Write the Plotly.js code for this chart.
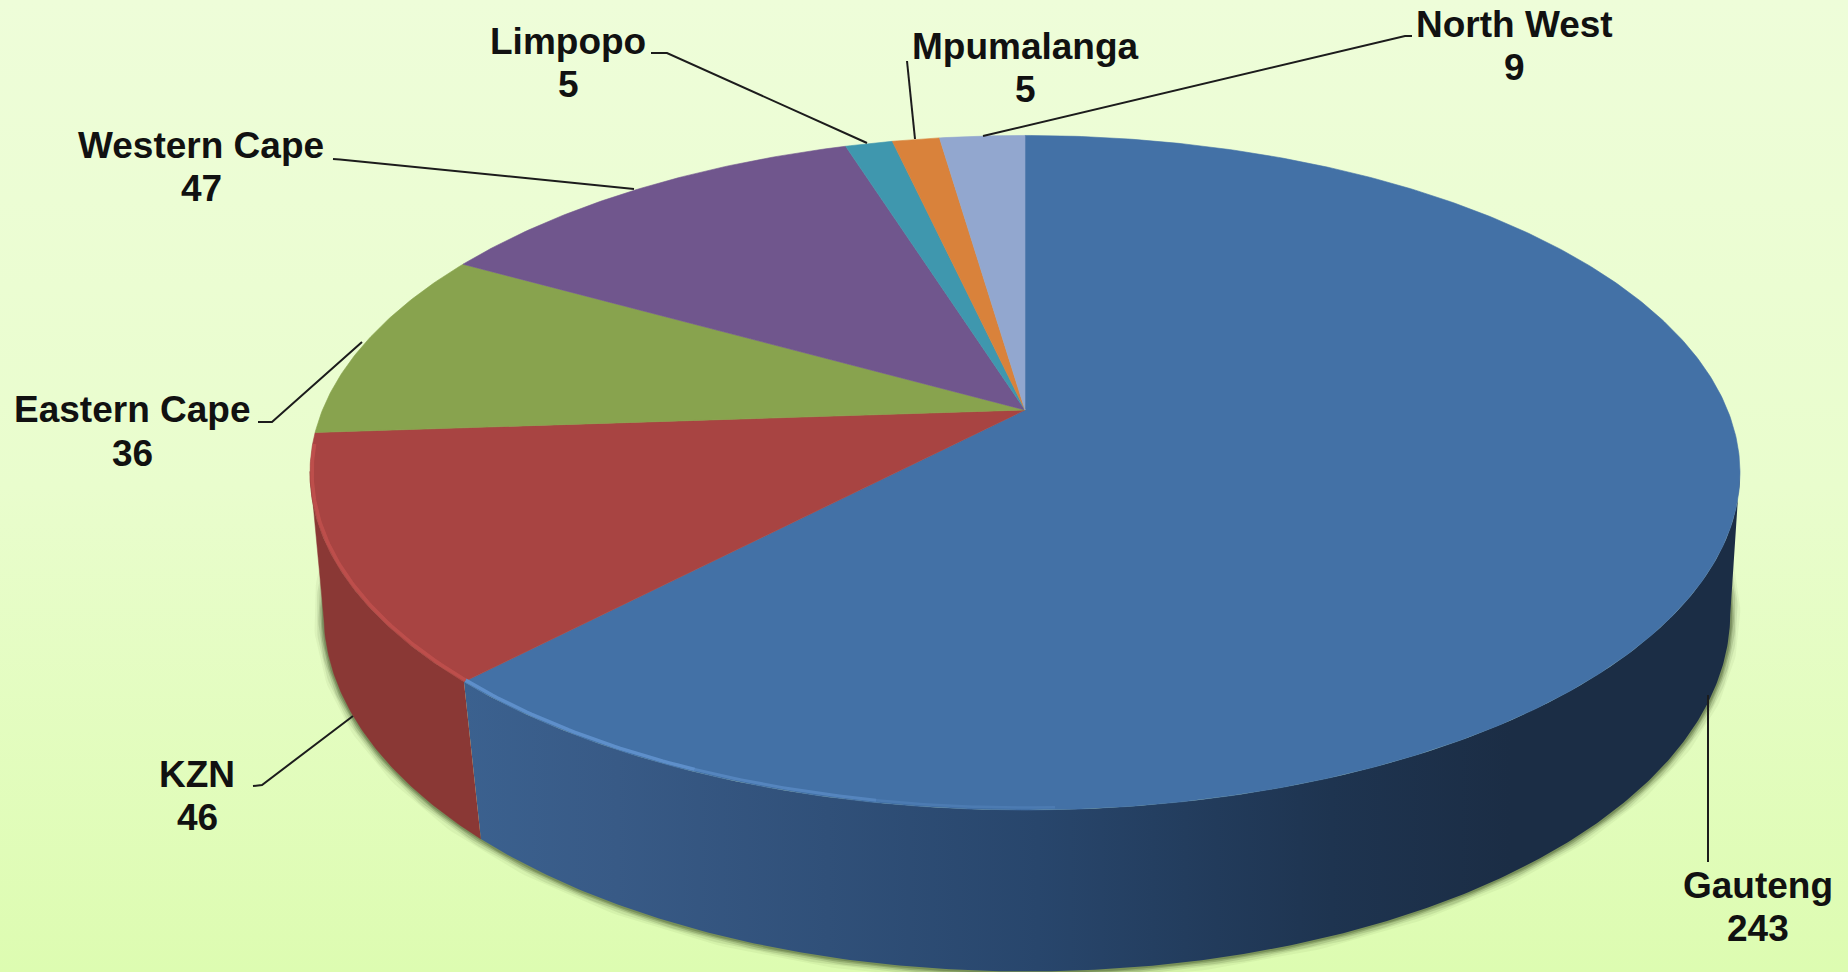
<!DOCTYPE html>
<html>
<head>
<meta charset="utf-8">
<script src="https://cdn.plot.ly/plotly-3.0.1.min.js"></script>
<style>
html,body{margin:0;padding:0;width:1848px;height:972px;overflow:hidden;
background:linear-gradient(to bottom,#eefdd9 0%,#e9fdcd 50%,#ddfcb1 100%);}
#chart{width:1848px;height:972px;}
</style>
</head>
<body>
<div id="chart"></div>
<script>
// Data
const provinces = ["Gauteng","KZN","Eastern Cape","Western Cape","Limpopo","Mpumalanga","North West"];
const counts = [243,46,36,47,5,5,9];

// Styles
const topColors = ["#4371a6","#a84442","#88a34e","#70568d","#3f97ae","#d9823b","#92a7cf"];
const fontFamily = '"Liberation Sans", Arial, sans-serif';

// Label layout: [centre x, first line y, second line y]
const labelPlaces = [[1758,885,928],[197,774,817],[132,409,453],[201,145,188],[568,41,84],[1025,46,89],[1514,24,67]];
// Leader lines, one polyline per label
const leaders = [
  [[1708,695],[1708,862]],
  [[253,786],[262,785],[353,716]],
  [[258,422],[272,422],[362,342]],
  [[333,159],[340,159.5],[634,189]],
  [[651,53],[667,53],[867,143]],
  [[907,61],[915,139]],
  [[983,136],[1405,36],[1412,36]]
];

// Perspective projection of the top and bottom discs of the 3D pie
const topDisc = {cx:1025, cy:410, a:702.5, b:325.6, k:0.186};
const botDisc = {cx:1027, cy:552.5, a:693, b:347.7, k:0.17};
function project(d, deg){
  const t = deg*Math.PI/180, u = Math.sin(t), v = Math.cos(t), w = 1 + d.k*v;
  return [d.cx + d.a*u/w, d.cy - d.b*v/w];
}
function arc(d, from, to){
  const n = Math.max(2, Math.ceil(Math.abs(to-from))*2), pts = [];
  for(let i=0;i<=n;i++) pts.push(project(d, from+(to-from)*i/n));
  return pts;
}
const xs = p => p.map(q=>q[0]), ys = p => p.map(q=>q[1]);

const total = counts.reduce((s,c)=>s+c,0);
const edges = [0];
counts.forEach(c=>edges.push(edges[edges.length-1]+c/total*360));

const traces = [];
const base = {mode:'lines', showlegend:false, hoverinfo:'skip'};

// Soft shadow under the body
[[20,0.06],[15,0.10],[11,0.16],[7,0.24],[4,0.30]].forEach(([w,o])=>{
  const p = arc(botDisc, 92, 268);
  traces.push({...base, x:xs(p), y:ys(p), line:{color:`rgba(60,80,35,${o})`, width:w}});
});

// Side walls
const wallRight = 100, wallLeft = 259.5;
let wp = arc(topDisc, wallRight, edges[1]).concat(arc(botDisc, edges[1], wallRight));
traces.push({...base, x:xs(wp), y:ys(wp), fill:'toself', line:{width:0},
  fillgradient:{type:'horizontal', colorscale:[[0,'#3b618f'],[0.12,'#385a86'],[0.45,'#28466c'],[0.68,'#1e3450'],[0.82,'#1b2d45'],[1,'#1b2d45']]},
  hoverinfo:'text', text:provinces[0]+': '+counts[0]});
wp = arc(topDisc, edges[1], wallLeft).concat(arc(botDisc, wallLeft, edges[1]));
traces.push({...base, x:xs(wp), y:ys(wp), fill:'toself', fillcolor:'#8a3835', line:{color:'#8a3835',width:0.5},
  hoverinfo:'text', text:provinces[1]+': '+counts[1]});

// Top surface slices
provinces.forEach((name,i)=>{
  const p = [[topDisc.cx,topDisc.cy]].concat(arc(topDisc, edges[i], edges[i+1]));
  p.push([topDisc.cx,topDisc.cy]);
  traces.push({...base, x:xs(p), y:ys(p), fill:'toself', fillcolor:topColors[i],
    line:{color:topColors[i],width:0.6}, hoverinfo:'text', hoveron:'fills', text:name+': '+counts[i], name:name});
});

// Bevel highlights along the front rim
function rim(from,to,color,width,op){
  const p = arc({...topDisc, b:topDisc.b-2, a:topDisc.a-2}, from, to);
  traces.push({...base, x:xs(p), y:ys(p), line:{color:color,width:width}, opacity:op});
}
rim(edges[1],203,'#6193cf',3.5,0.9);
rim(203,190,'#6193cf',3,0.6);
rim(190,178,'#6193cf',2.5,0.3);
rim(edges[1],edges[2]-2,'#c0504d',3.5,0.9);

// Leader lines
leaders.forEach(l=>{
  traces.push({...base, x:xs(l), y:ys(l), line:{color:'#1c1c1c',width:2}});
});

// Labels
const annotations = [];
provinces.forEach((name,i)=>{
  const [x,y1,y2] = labelPlaces[i];
  [[name,y1],[String(counts[i]),y2]].forEach(([t,y])=>{
    annotations.push({x:x,y:y,xref:'x',yref:'y',text:'<b>'+t+'</b>',showarrow:false,
      xanchor:'center',yanchor:'middle',font:{family:fontFamily,size:37,color:'#111111'}});
  });
});

const layout = {
  width:1848, height:972, margin:{l:0,r:0,t:0,b:0},
  paper_bgcolor:'rgba(0,0,0,0)', plot_bgcolor:'rgba(0,0,0,0)',
  xaxis:{range:[0,1848],visible:false,fixedrange:true},
  yaxis:{range:[972,0],visible:false,fixedrange:true},
  showlegend:false, annotations:annotations, hovermode:'closest'
};
Plotly.newPlot('chart',traces,layout,{displayModeBar:false,staticPlot:false});
</script>
</body>
</html>
